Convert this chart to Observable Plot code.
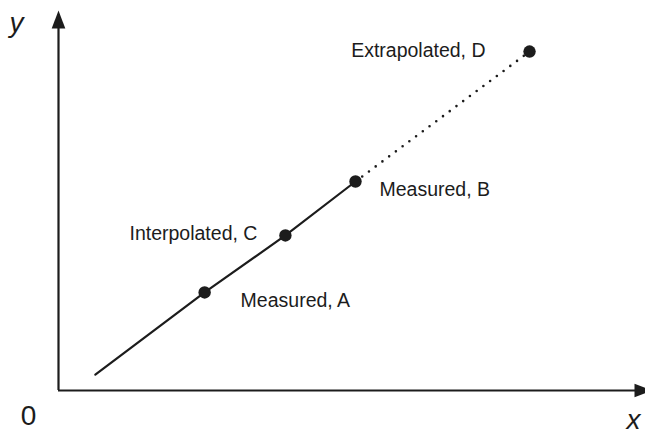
<!DOCTYPE html>
<html>
<head>
<meta charset="utf-8">
<script src="https://cdn.jsdelivr.net/npm/d3@7"></script>
<script src="https://cdn.jsdelivr.net/npm/@observablehq/plot@0.6"></script>
<style>
  html, body { margin: 0; padding: 0; background: #fff; }
  #chart svg { display: block; }
</style>
</head>
<body>
<div id="chart"></div>
<script>
// Schematic data (arbitrary units; origin at 0,0)
const solidX = [6.2, 24.6, 38.2, 50.0];
const solidY = [4.2, 25.8, 40.8, 55.0];
const dottedX = [50.0, 79.3];
const dottedY = [55.0, 89.2];

const pointKeys = ["A", "C", "B", "D"];
const pointLabels = ["Measured, A", "Interpolated, C", "Measured, B", "Extrapolated, D"];
const pointX = [24.6, 38.2, 50.0, 79.3];
const pointY = [25.8, 40.8, 55.0, 89.2];

const originLabel = "0";
const xAxisLabel = "x";
const yAxisLabel = "y";

const solid = solidX.map((x, i) => ({x, y: solidY[i]}));
const dotted = dottedX.map((x, i) => ({x, y: dottedY[i]}));
const points = pointKeys.map((k, i) => ({k, label: pointLabels[i], x: pointX[i], y: pointY[i]}));
const pt = k => points.filter(d => d.k === k);

const ink = "#1c1c1c";
const font = "Liberation Sans, Arial, sans-serif";
const fs = 19.5;

// filled arrowhead pointing up, tip at the anchor
const arrowHead = {
  draw(context) {
    context.moveTo(0, 0);
    context.lineTo(6.8, 18);
    context.lineTo(-6.8, 18);
    context.closePath();
  }
};

const chart = Plot.plot({
  width: 645,
  height: 436,
  x: {domain: [0, 100], range: [58, 652]},
  y: {domain: [0, 100], range: [390, 10]},
  axis: null,
  style: {background: "#fff"},
  marks: [
    // axes
    Plot.ruleY([0], {x1: 0, x2: 98, stroke: ink, strokeWidth: 2.2}),
    Plot.ruleX([0], {y1: 0, y2: 97, stroke: ink, strokeWidth: 2.2}),
    Plot.dot([{x: 0, y: 100}], {x: "x", y: "y", symbol: arrowHead, fill: ink, stroke: "none"}),
    Plot.dot([{x: 100, y: 0}], {x: "x", y: "y", symbol: arrowHead, rotate: 90, fill: ink, stroke: "none"}),
    // data lines
    Plot.line(solid, {x: "x", y: "y", stroke: ink, strokeWidth: 2.2}),
    Plot.line(dotted, {x: "x", y: "y", stroke: ink, strokeWidth: 2.6, strokeDasharray: "0 8.4", strokeLinecap: "round"}),
    Plot.dot(points, {x: "x", y: "y", r: 6.2, fill: ink, stroke: "none"}),
    // point labels
    Plot.text(pt("D"), {x: "x", y: "y", text: "label", textAnchor: "end", dx: -44, dy: -1, fontSize: fs, fontFamily: font, fill: ink}),
    Plot.text(pt("B"), {x: "x", y: "y", text: "label", textAnchor: "start", dx: 24, dy: 8, fontSize: fs, fontFamily: font, fill: ink}),
    Plot.text(pt("C"), {x: "x", y: "y", text: "label", textAnchor: "end", dx: -28, dy: -2, fontSize: fs, fontFamily: font, fill: ink}),
    Plot.text(pt("A"), {x: "x", y: "y", text: "label", textAnchor: "start", dx: 36, dy: 8, fontSize: fs, fontFamily: font, fill: ink}),
    // axis labels
    Plot.text([originLabel], {x: () => 0, y: () => 0, text: d => d, dx: -30, dy: 26, fontSize: 28, fontFamily: font, fill: ink}),
    Plot.text([xAxisLabel], {x: () => 100, y: () => 0, text: d => d, dx: -19, dy: 30, fontSize: 28, fontStyle: "italic", fontFamily: font, fill: ink}),
    Plot.text([yAxisLabel], {x: () => 0, y: () => 100, text: d => d, dx: -42, dy: 13, fontSize: 28, fontStyle: "italic", fontFamily: font, fill: ink})
  ]
});

document.getElementById("chart").appendChild(chart);
</script>
</body>
</html>
